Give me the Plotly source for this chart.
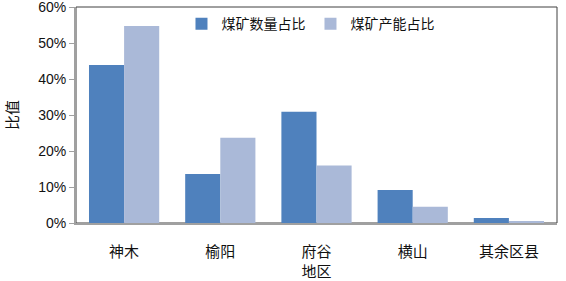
import plotly.graph_objects as go

categories = ["神木", "榆阳", "府谷", "横山", "其余区县"]
count_share = [43.9, 13.6, 30.9, 9.2, 1.4]
capacity_share = [54.7, 23.7, 16.0, 4.5, 0.3]
y_ticks = [0, 10, 20, 30, 40, 50, 60]
y_tick_labels = ["0%", "10%", "20%", "30%", "40%", "50%", "60%"]

cjk = "Noto Sans CJK SC"
fig = go.Figure()
fig.add_trace(go.Bar(x=categories, y=count_share, name="煤矿数量占比",
                     marker=dict(color="#4f81bd", line=dict(width=0))))
fig.add_trace(go.Bar(x=categories, y=capacity_share, name="煤矿产能占比",
                     marker=dict(color="#aab9d8", line=dict(width=0))))

fig.update_layout(
    width=566, height=281,
    margin=dict(l=76, r=9, t=7, b=58, autoexpand=False),
    paper_bgcolor="white", plot_bgcolor="white",
    barmode="group", bargap=0.27, bargroupgap=0,
    font=dict(family=cjk, color="#111111"),
    legend=dict(orientation="h", x=0.4875, xanchor="center", y=0.995, yanchor="top",
                font=dict(family=cjk, size=14, color="#111111"),
                bgcolor="rgba(0,0,0,0)", itemwidth=30, traceorder="normal"),
    xaxis=dict(showline=True, linecolor="#a0a0a0", linewidth=2, ticks="", automargin=False,
               ticklabelstandoff=14,
               tickfont=dict(family=cjk, size=15, color="#111111"),
               title=dict(text="地区", font=dict(family=cjk, size=15, color="#111111"), standoff=2)),
    yaxis=dict(range=[0, 60], tickvals=y_ticks, ticktext=y_tick_labels, automargin=False,
               ticklabeloverflow="allow",
               showgrid=False, zeroline=False, showline=True, linecolor="#a0a0a0", linewidth=2,
               ticks="outside", ticklen=5, tickcolor="#a0a0a0", tickwidth=1,
               tickfont=dict(family="Liberation Sans", size=14, color="#111111"),
               title=dict(text="比值", font=dict(family=cjk, size=15, color="#111111"), standoff=16)),
    shapes=[dict(type="rect", xref="paper", yref="paper", x0=0, x1=1, y0=0, y1=1,
                 line=dict(color="#404040", width=1), fillcolor="rgba(0,0,0,0)", layer="below")],
)
fig.write_html("out.html", config={"displayModeBar": False},
               post_script="document.body.style.margin='0';")
